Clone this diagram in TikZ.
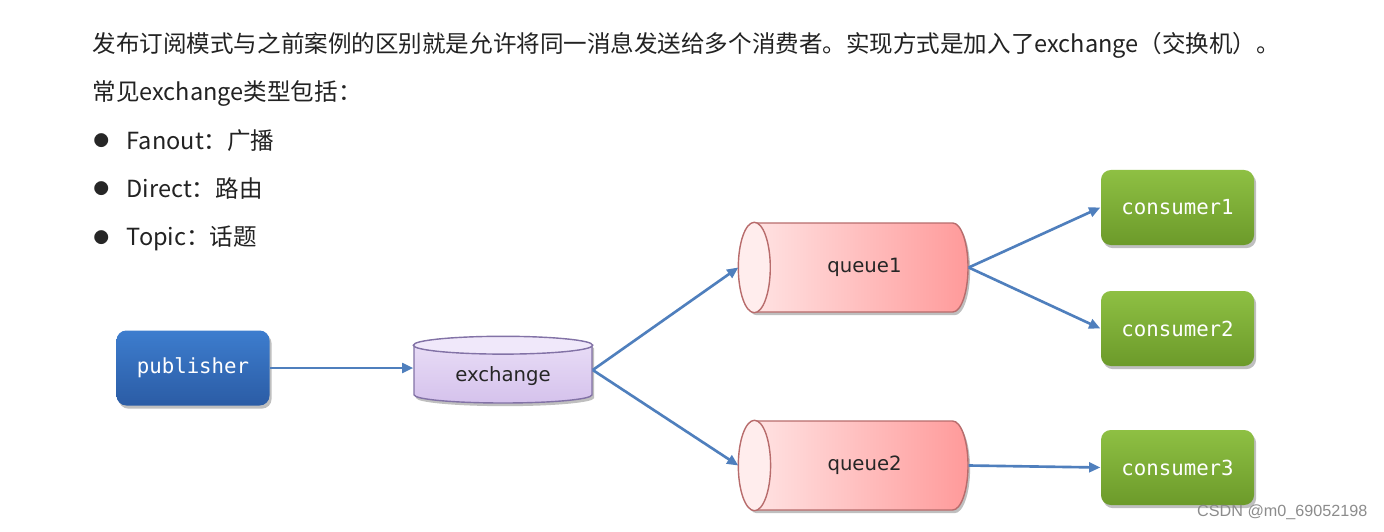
\documentclass[tikz,border=0pt]{standalone}
\usepackage{fontspec}
\setmainfont{Noto Sans CJK SC}
\newfontfamily\monofont{DejaVu Sans Mono}
\newfontfamily\labelfont{DejaVu Sans}
\newfontfamily\markfont{Liberation Sans}
\usetikzlibrary{shapes.geometric,arrows.meta,shadows,calc}

\definecolor{linkblue}{HTML}{4F7FBD}
\definecolor{pubtop}{HTML}{3D7DCE}
\definecolor{pubbot}{HTML}{2B5CA5}
\definecolor{contop}{HTML}{8EC043}
\definecolor{conbot}{HTML}{6C9A2A}
\definecolor{exctop}{HTML}{EADFF7}
\definecolor{excbot}{HTML}{D5C2EC}
\definecolor{excline}{HTML}{8272A6}
\definecolor{excface}{HTML}{F0E8FA}
\definecolor{queleft}{HTML}{FFE8E8}
\definecolor{queright}{HTML}{FF9A9A}
\definecolor{queline}{HTML}{B86C6C}
\definecolor{queface}{HTML}{FFEDED}
\definecolor{bodytext}{HTML}{222222}

\tikzset{
  softshadow/.style={drop shadow={shadow xshift=0.6pt,shadow yshift=-0.9pt,opacity=0.25,fill=black}},
  box/.style={rounded corners=2.8pt,minimum width=1.53cm,minimum height=0.75cm,
    text=white,font=\monofont\fontsize{5.9}{7}\selectfont,softshadow},
  pubbox/.style={box,top color=pubtop,bottom color=pubbot},
  conbox/.style={box,top color=contop,bottom color=conbot},
  exccyl/.style={cylinder,shape border rotate=90,aspect=0.16,draw=excline,line width=0.4pt,
    top color=exctop,bottom color=excbot,minimum width=1.78cm,minimum height=0.66cm,inner sep=1pt,
    font=\labelfont\fontsize{5.6}{7}\selectfont,text=black!85,softshadow,anchor=shape center},
  quecyl/.style={cylinder,shape border rotate=180,aspect=1.2,draw=queline,line width=0.4pt,
    left color=queleft,right color=queright,minimum width=0.89cm,minimum height=2.29cm,inner sep=1pt,
    font=\labelfont\fontsize{5.6}{7}\selectfont,text=black!85,softshadow,anchor=shape center},
  link/.style={draw=linkblue,line width=0.75pt,-{Triangle[length=3.2pt,width=2.8pt]}},
  para/.style={anchor=west,text=bodytext,font=\fontsize{6.7}{8}\selectfont,inner sep=0pt}
}

\begin{document}
\begin{tikzpicture}
    \useasboundingbox[fill=white] (0,0) rectangle (13.84,5.31);

    % Text above the diagram
    \node[para] (line1) at (0.92,4.86) {发布订阅模式与之前案例的区别就是允许将同一消息发送给多个消费者。实现方式是加入了exchange（交换机）。};
    \node[para] (line2) at (0.92,4.38) {常见exchange类型包括：};
    \foreach \y/\t [count=\i] in {3.90/Fanout：广播, 3.42/Direct：路由, 2.93/Topic：话题} {
        \node[para,text=black!85,font=\fontsize{4.4}{5}\selectfont] (dot\i) at (0.93,\y) {●};
        \node[para] (type\i) at (1.26,\y) {\t};
    }

    % Publisher and exchange
    \node[pubbox] (pub) at (1.93,1.63) {publisher};
    \node[exccyl] (exc) at (5.03,1.61) {exchange};
    \coordinate (excin) at (exc.shape center -| exc.west);
    \coordinate (excout) at (exc.shape center -| exc.east);

    % Queues
    \node[quecyl] (q1) at (8.535,2.635) {queue1};
    \node[quecyl] (q2) at (8.535,0.655) {queue2};

    % Visible ends of the cylinders
    \foreach \nd/\c/\l in {exc/excface/excline, q1/queface/queline, q2/queface/queline}
        \draw[draw=\l,line width=0.4pt,fill=\c]
            let \p1=(\nd.before top), \p2=(\nd.after top), \p3=(\nd.top),
                \n1={max(abs(\x3-\x1),abs(\x2-\x1)/2)}, \n2={max(abs(\y1-\y2)/2,abs(\y3-\y1))}
            in ($(\p1)!0.5!(\p2)$) ellipse ({\n1} and {\n2});

    % Consumers
    \node[conbox] (c1) at (11.775,3.235) {consumer1};
    \node[conbox] (c2) at (11.775,2.025) {consumer2};
    \node[conbox] (c3) at (11.775,0.635) {consumer3};

    % Connectors
    \draw[link] (pub.east) -- (pub.east -| excin);
    \draw[link] (excout) -- (q1.west);
    \draw[link] (excout) -- (q2.west);
    \draw[link] (q1.east) -- (c1.west);
    \draw[link] (q1.east) -- (c2.west);
    \draw[link] (q2.east) -- (c3.west);

    % Watermark
    \node[anchor=east,inner sep=0pt,text=black!45,font=\markfont\fontsize{4.6}{6}\selectfont] (mark) at (13.68,0.19) {CSDN @m0\_69052198};
\end{tikzpicture}
\end{document}
